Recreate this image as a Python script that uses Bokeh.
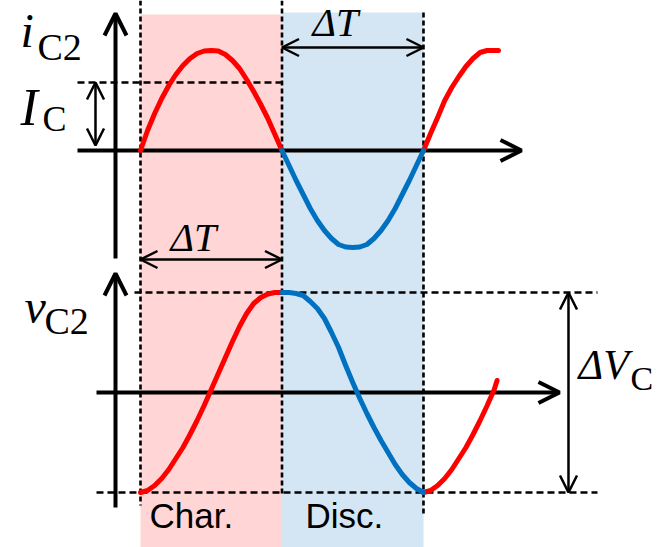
from bokeh.plotting import figure
from bokeh.models import Range1d, Arrow, OpenHead, Label, BoxAnnotation
from bokeh.embed import file_html
from bokeh.resources import INLINE

# ---- waveform samples (time in units of the half period ΔT) ----
# capacitor current i_C2, normalised to its charging peak
t_chg = [0.00, 0.05, 0.10, 0.15, 0.20, 0.25, 0.30, 0.35, 0.40, 0.45, 0.50,
         0.55, 0.60, 0.65, 0.70, 0.75, 0.80, 0.85, 0.90, 0.95, 1.00]
i_chg = [0.00, 0.20, 0.37, 0.52, 0.65, 0.76, 0.85, 0.92, 0.97, 0.995, 1.00,
         0.995, 0.96, 0.90, 0.82, 0.71, 0.59, 0.46, 0.32, 0.16, 0.00]

t_dis = [1.00, 1.05, 1.10, 1.15, 1.20, 1.25, 1.30, 1.35, 1.40, 1.45, 1.50,
         1.55, 1.60, 1.65, 1.70, 1.75, 1.80, 1.85, 1.90, 1.95, 2.00]
i_dis = [0.00, -0.15, -0.30, -0.44, -0.58, -0.70, -0.80, -0.88, -0.94, -0.965, -0.97,
         -0.965, -0.94, -0.88, -0.80, -0.70, -0.58, -0.44, -0.30, -0.15, 0.00]

t_chg2 = [2.00, 2.05, 2.10, 2.15, 2.20, 2.25, 2.30, 2.35, 2.40, 2.45, 2.50, 2.53]
i_chg2 = [0.00, 0.17, 0.33, 0.50, 0.63, 0.74, 0.84, 0.92, 0.98, 1.00, 1.00, 1.00]

# capacitor voltage v_C2, normalised to half the ripple ΔV_C
v_chg = [-1.00, -0.98, -0.93, -0.86, -0.77, -0.66, -0.55, -0.42, -0.28, -0.13, 0.03,
         0.19, 0.35, 0.51, 0.66, 0.79, 0.89, 0.95, 0.985, 1.00, 1.00]
v_dis = [1.00, 1.00, 0.99, 0.97, 0.91, 0.84, 0.74, 0.60, 0.45, 0.27, 0.10,
         -0.06, -0.21, -0.35, -0.48, -0.60, -0.72, -0.82, -0.90, -0.96, -1.00]
t_chg2v = [2.00, 2.05, 2.10, 2.15, 2.20, 2.25, 2.30, 2.35, 2.40, 2.45, 2.50, 2.52]
v_chg2 = [-1.00, -0.98, -0.93, -0.86, -0.77, -0.66, -0.55, -0.42, -0.28, -0.13, 0.03, 0.12]

I_C = 0.68          # average charging current level
V_TOP, V_BOT = 1.0, -1.0

RED = "#FF0000"
BLUE = "#0070C0"
PINK = "#FFD5D5"
LBLUE = "#D4E5F3"

W, H = 660, 547
X0, X1 = -0.9894, 3.675      # time axis, 141.5 px per ΔT
p = figure(width=W, height=H, x_range=Range1d(X0, X1), y_range=Range1d(-3.97, 1.50),
           output_backend="svg", toolbar_location=None, min_border=0,
           background_fill_color="white", border_fill_color="white")
p.extra_y_ranges = {"v": Range1d(-1.55, 3.92)}
p.xaxis.visible = False
p.yaxis.visible = False
p.grid.visible = False
p.outline_line_color = None


def tx(px):
    return X0 + px / 141.5


def iy(py):
    return 1.50 - py / 100.0


# charging / discharging intervals
p.add_layout(BoxAnnotation(left=0, right=1, top=iy(14), bottom=-3.97, fill_color=PINK,
                           fill_alpha=1, line_color=None, level="image"))
p.add_layout(BoxAnnotation(left=1, right=2, top=iy(12), bottom=-3.97, fill_color=LBLUE,
                           fill_alpha=1, line_color=None, level="image"))

# dashed guides
dk = dict(line_color="black", line_width=2.6)
p.line([0, 0], [1.5, iy(505)], line_dash="5 3", **dk)
p.line([1, 1], [1.5, iy(495)], line_dash="5 3", **dk)
p.line([2, 2], [iy(12), iy(515)], line_dash="5 3", **dk)
p.line([tx(77), 1], [I_C, I_C], line_dash="7 4", **dk)
p.line([tx(134), tx(597)], [V_TOP, V_TOP], line_dash="7 4", y_range_name="v", **dk)
p.line([tx(96), tx(597)], [V_BOT, V_BOT], line_dash="7 4", y_range_name="v", **dk)


def arrow(x0, y0, x1, y1, lw, size, both=False, rng="default"):
    kw = dict(end=OpenHead(size=size, line_width=lw, line_color="black"),
              x_start=x0, y_start=y0, x_end=x1, y_end=y1,
              line_width=lw, line_color="black", level="underlay")
    kw["start"] = OpenHead(size=size, line_width=lw, line_color="black") if both else None
    if rng != "default":
        kw["y_range_name"] = rng
    p.add_layout(Arrow(**kw))


# axes
ax_t = tx(115)
arrow(ax_t, iy(258), ax_t, iy(13), 4, 22)
arrow(tx(77), 0, tx(521), 0, 4, 21)
arrow(ax_t, -1.15, ax_t, 1.19, 4, 22, rng="v")
arrow(tx(96), 0, tx(559), 0, 4, 21, rng="v")

# dimension arrows
arrow(tx(95), I_C, tx(95), 0.05, 2.5, 17, both=True)
arrow(1, iy(47), 2, iy(47), 2.5, 17, both=True)
arrow(0, iy(259), 1, iy(259), 2.5, 17, both=True)
arrow(tx(568), V_TOP, tx(568), V_BOT, 2.5, 17, both=True, rng="v")

# waveforms
cw = dict(line_width=5, line_cap="round", line_join="round")
p.line(t_chg, i_chg, line_color=RED, **cw)
p.line(t_chg2, i_chg2, line_color=RED, **cw)
p.line(t_dis, i_dis, line_color=BLUE, **cw)
p.line(t_chg, v_chg, line_color=RED, y_range_name="v", **cw)
p.line(t_chg2v, v_chg2, line_color=RED, y_range_name="v", **cw)
p.line(t_dis, v_dis, line_color=BLUE, y_range_name="v", **cw)


def label(text, px, base, size, italic=False, font="Liberation Serif"):
    # anchor on the vertical middle of the capitals, sitting on the given baseline
    p.add_layout(Label(x=tx(px), y=iy(base - 0.36 * size), text=text, text_font=font,
                       text_font_size=f"{size}px",
                       text_font_style="italic" if italic else "normal",
                       text_color="black", text_baseline="alphabetic", text_align="left"))


label("i", 20, 47, 48, italic=True)
label("C2", 37, 60, 38)
label("I", 20, 126, 52, italic=True)
label("C", 42, 131, 36)
label("ΔT", 312, 36, 40, italic=True)
label("ΔT", 170, 251, 40, italic=True)
label("v", 24, 323, 48, italic=True)
label("C2", 44, 334, 38)
label("ΔV", 578, 380, 42, italic=True)
label("C", 630, 390, 34)
label("Char.", 149, 528, 35, font="Liberation Sans")
label("Disc.", 305, 528, 35, font="Liberation Sans")

open("out.html", "w").write(file_html(p, INLINE))
